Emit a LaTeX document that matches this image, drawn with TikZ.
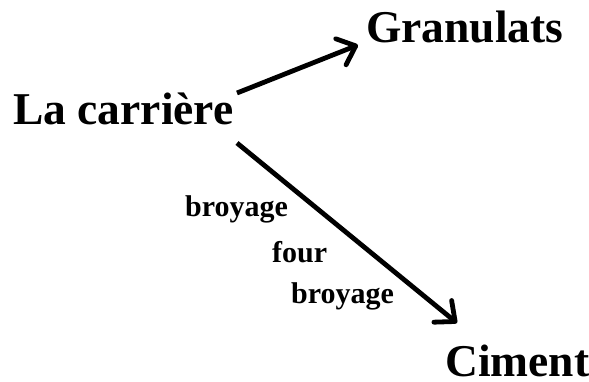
\documentclass[tikz,border=0pt]{standalone}
\usepackage{fontspec}
\setmainfont{Liberation Serif}
\usetikzlibrary{arrows.meta}
\begin{document}
\begin{tikzpicture}[x=1pt,y=-1pt,
  big/.style={anchor=base west,inner sep=0pt,font=\fontsize{45.5}{50}\selectfont\bfseries},
  small/.style={anchor=base west,inner sep=0pt,font=\fontsize{30}{34}\selectfont\bfseries},
  arr/.style={line width=4.8pt,-{Straight Barb[length=16pt,width=28pt,line join=round,line cap=round]}}]
\useasboundingbox (0,0) rectangle (589,382);
\node[big] (carriere) at (13,125) {La carrière};
\node[big] (granulats) at (366,43) {Granulats};
\node[big] (ciment) at (445,376) {Ciment};
\node[small] (b1) at (185,217) {broyage};
\node[small] (four) at (272,262) {four};
\node[small] (b2) at (291,303) {broyage};
\coordinate (s1) at (237,93);
\coordinate (e1) at (358,45);
\coordinate (s2) at (237,143);
\coordinate (e2) at (457,323);
\draw[arr] (s1) -- (e1);
\draw[arr] (s2) -- (e2);
\end{tikzpicture}
\end{document}
